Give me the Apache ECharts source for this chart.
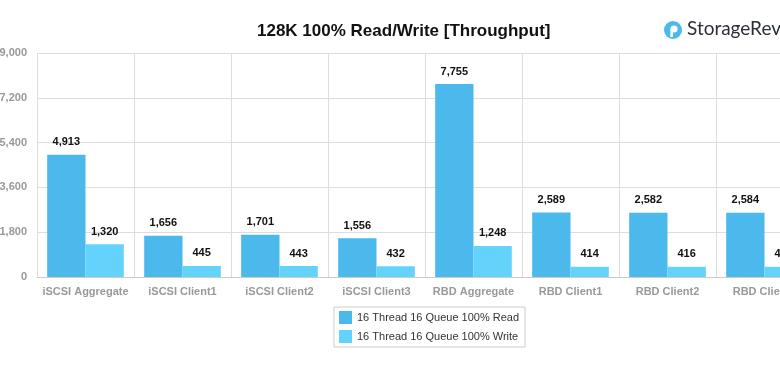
<!DOCTYPE html>
<html><head><meta charset="utf-8">
<script src="https://cdn.jsdelivr.net/npm/echarts@6/dist/echarts.min.js"></script>
<style>html,body{margin:0;padding:0;background:#fff}#c{width:780px;height:368px}</style>
</head><body><div id="c"></div>
<script>
var categories = ['iSCSI Aggregate','iSCSI Client1','iSCSI Client2','iSCSI Client3','RBD Aggregate','RBD Client1','RBD Client2','RBD Client3'];
var readValues = [4913,1656,1701,1556,7755,2589,2582,2584];
var writeValues = [1320,445,443,432,1248,414,416,410];
var seriesNames = ['16 Thread 16 Queue 100% Read','16 Thread 16 Queue 100% Write'];
var yTicks = {min:0,max:9000,interval:1800};

var chart = echarts.init(document.getElementById('c'));
var labelStyle = {show:true,position:'top',distance:7,color:'#111',fontWeight:'bold',fontSize:11,fontFamily:'Liberation Sans, Arial, sans-serif',
  formatter:function(p){return p.value.toLocaleString('en-US');}};
chart.setOption({
  animation:false,
  title:{text:'128K 100% Read/Write [Throughput]',left:252,top:18,
    textStyle:{fontSize:17,fontWeight:'bold',color:'#111',fontFamily:'Liberation Sans, Arial, sans-serif'}},
  graphic:[
    {type:'circle',shape:{cx:673,cy:30,r:9},style:{fill:'#4cb9ec'}},
    {type:'circle',shape:{cx:674,cy:29,r:3.6},style:{fill:'#fff'}},
    {type:'rect',shape:{x:670.4,y:29,width:2.6,height:8},style:{fill:'#fff'}},
    {type:'text',left:687,top:19,style:{text:'StorageReview',fontSize:19,fill:'#2b2f38',fontFamily:'Lato, sans-serif'}}
  ],
  legend:{orient:'vertical',left:334,top:307,padding:[4,6,4,5],itemGap:6,itemWidth:13,itemHeight:13,
    borderColor:'#ccc',borderWidth:1,borderRadius:0,icon:'rect',
    textStyle:{fontSize:11,color:'#333',fontFamily:'Liberation Sans, Arial, sans-serif'},
    data:seriesNames},
  grid:{left:37,right:-33,top:53,bottom:91,containLabel:false,outerBoundsMode:'none'},
  xAxis:{type:'category',data:categories,
    axisLine:{show:true,lineStyle:{color:'#ccc'}},axisTick:{show:false},
    splitLine:{show:true,lineStyle:{color:'#ddd'}},
    axisLabel:{color:'#999',fontWeight:'bold',fontSize:11,margin:9,fontFamily:'Liberation Sans, Arial, sans-serif',interval:0}},
  yAxis:{type:'value',min:yTicks.min,max:yTicks.max,interval:yTicks.interval,
    axisLine:{show:false},axisTick:{show:false},
    splitLine:{lineStyle:{color:'#ddd'}},
    axisLabel:{color:'#999',fontWeight:'bold',fontSize:11,margin:10,fontFamily:'Liberation Sans, Arial, sans-serif',
      formatter:function(v){return v.toLocaleString('en-US');}}},
  series:[
    {name:seriesNames[0],type:'bar',data:readValues,barGap:'0%',barCategoryGap:'21%',
      itemStyle:{color:'#4cb9ec'},label:labelStyle},
    {name:seriesNames[1],type:'bar',data:writeValues,
      itemStyle:{color:'#63d3fc'},label:labelStyle}
  ]
});
</script></body></html>
